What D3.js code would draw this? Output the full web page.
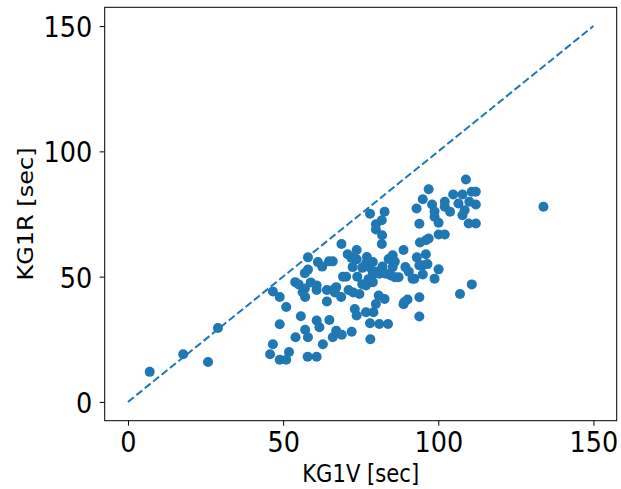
<!DOCTYPE html>
<html lang="en">
  <head>
    <meta charset="utf-8">
    <title>KG1V vs KG1R</title>
    <script src="https://d3js.org/d3.v7.min.js"></script>
    <style>
      body { margin: 0; background: #fff; }
      text { font-family: "DejaVu Sans", sans-serif; fill: #000; }
    </style>
  </head>
  <body>
    <svg id="chart"></svg>
    <script>
      // 1) data
      let kg1v = [7.0, 17.8, 25.8, 29.0, 46.7, 48.9, 51.0, 48.9, 55.7, 46.7, 45.8, 48.9, 51.0, 51.9, 54.0,
                  53.9, 55.0, 57.0, 57.1, 56.3, 57.0, 58.0, 58.0, 58.9, 60.8, 60.8, 61.2, 62.6, 64.8, 66.0,
                  64.1, 67.1, 66.7, 68.7, 64.1, 68.8, 69.3, 70.3, 70.8, 73.7, 72.4, 73.7, 72.0, 73.9, 71.1,
                  72.6, 74.6, 75.5, 76.7, 77.8, 77.0, 78.9, 78.9, 76.7, 78.9, 77.5, 80.0, 81.0, 83.1, 85.3,
                  85.3, 84.7, 86.0, 87.2, 88.8, 89.4, 88.8, 90.1, 89.0, 91.7, 93.1, 93.9, 95.0, 95.0, 92.3,
                  96.0, 93.9, 93.9, 98.8, 100.1, 107.0, 110.8, 78.0, 82.7, 81.8, 79.9, 79.9, 81.9, 81.8, 93.0,
                  95.0, 96.9, 93.9, 94.1, 96.0, 96.9, 98.0, 98.8, 98.8, 100.1, 100.1, 102.1, 102.1, 102.1, 103.8,
                  104.8, 106.5, 107.8, 108.9, 107.8, 109.8, 112.1, 110.8, 112.1, 112.1, 110.0, 108.5, 133.9, 78.0, 81.0,
                  83.8, 78.1, 76.7, 79.1, 79.9, 80.8, 82.7, 73.1, 73.7, 72.1, 68.9, 67.1, 66.0, 64.9, 62.8,
                  60.8, 61.7, 60.8, 57.9, 57.1, 58.0, 66.0, 75.5, 82.0, 84.0, 90.5, 96.5, 86.0];
      let kg1r = [12.0, 19.0, 15.9, 29.5, 44.1, 41.9, 37.9, 31.0, 34.2, 23.0, 19.0, 16.8, 16.8, 19.9, 25.8,
                  47.8, 46.9, 45.3, 41.9, 43.8, 51.4, 52.8, 57.7, 47.7, 46.5, 44.7, 55.8, 54.0, 56.1, 56.1,
                  44.7, 45.8, 43.7, 41.9, 40.1, 63.0, 50.0, 50.0, 58.9, 60.6, 53.8, 56.9, 57.5, 50.0, 44.7,
                  43.7, 43.1, 53.5, 55.2, 53.8, 57.8, 55.8, 51.2, 46.5, 47.8, 49.0, 52.0, 51.2, 51.2, 58.5,
                  53.8, 50.5, 56.0, 49.8, 60.6, 53.8, 39.0, 40.9, 39.8, 49.2, 57.7, 54.5, 54.5, 50.9, 49.2,
                  58.9, 41.8, 34.1, 49.2, 52.9, 43.1, 46.9, 75.1, 75.9, 72.5, 70.9, 68.8, 66.5, 63.0, 77.2,
                  80.9, 84.9, 71.1, 63.6, 64.5, 65.2, 78.8, 76.0, 73.9, 71.5, 66.8, 66.8, 79.9, 77.9, 75.9,
                  82.8, 79.2, 82.8, 88.8, 74.5, 71.2, 71.2, 83.9, 83.9, 78.8, 79.9, 76.5, 77.9, 31.4, 31.1,
                  31.1, 25.0, 35.8, 35.8, 39.1, 42.5, 41.1, 37.1, 34.5, 28.0, 26.8, 28.4, 25.8, 32.7, 23.0,
                  32.5, 29.8, 18.0, 18.0, 28.8, 25.8, 44.7, 47.0, 54.0, 57.0, 52.0, 55.0, 49.8];
      let refLine = [0, 150];
      let ticks = [0, 50, 100, 150];
      let xLabel = "KG1V [sec]", yLabel = "KG1R [sec]";

      // 2) sizes
      let svgWidth = 621, svgHeight = 489;
      let plotLeft = 104.7, plotTop = 7.3, plotRight = 616.7, plotBottom = 420.7;
      let squish = 0.88; // text in the picture is a bit narrow
      let blue = "#1f77b4";

      let svg = d3.select("#chart")
                  .attr("width", svgWidth)
                  .attr("height", svgHeight);

      // 3) scales
      let xScale = d3.scaleLinear().domain([-7.5, 157.5]).range([plotLeft, plotRight]);
      let yScale = d3.scaleLinear().domain([-7.5, 157.5]).range([plotBottom, plotTop]);

      // 4) dashed y = x line
      svg.append("line")
         .attr("x1", xScale(refLine[0])).attr("y1", yScale(refLine[0]))
         .attr("x2", xScale(refLine[1])).attr("y2", yScale(refLine[1]))
         .attr("stroke", blue)
         .attr("stroke-width", 2)
         .attr("stroke-dasharray", "7.5,3.3");

      // 5) points
      svg.selectAll("circle")
         .data(kg1v.map((v, i) => [v, kg1r[i]]))
         .enter()
         .append("circle")
         .attr("cx", d => xScale(d[0]))
         .attr("cy", d => yScale(d[1]))
         .attr("r", 5)
         .attr("fill", blue);

      // 6) axes
      let xAxis = d3.axisBottom(xScale).tickValues(ticks).tickSize(5).tickSizeOuter(0);
      let yAxis = d3.axisLeft(yScale).tickValues(ticks).tickSize(5).tickSizeOuter(0);

      let gx = svg.append("g")
                  .attr("transform", "translate(0," + plotBottom + ")")
                  .call(xAxis);
      gx.select(".domain").remove();
      gx.selectAll("line").attr("stroke", "#000").attr("stroke-width", 1);
      gx.selectAll("text")
        .attr("font-size", 29)
        .attr("font-family", "DejaVu Sans")
        .attr("y", 11)
        .attr("transform", "scale(" + squish + ",1)");

      let gy = svg.append("g")
                  .attr("transform", "translate(" + plotLeft + ",0)")
                  .call(yAxis);
      gy.select(".domain").remove();
      gy.selectAll("line").attr("stroke", "#000").attr("stroke-width", 1);
      gy.selectAll("text")
        .attr("font-size", 29)
        .attr("font-family", "DejaVu Sans")
        .attr("x", -12.5 / squish)
        .attr("dy", "0.36em")
        .attr("transform", "scale(" + squish + ",1)");

      // frame
      svg.append("rect")
         .attr("x", plotLeft).attr("y", plotTop)
         .attr("width", plotRight - plotLeft).attr("height", plotBottom - plotTop)
         .attr("fill", "none")
         .attr("stroke", "#000")
         .attr("stroke-width", 1);

      // 7) axis titles
      svg.append("text")
         .attr("transform", "translate(" + (plotLeft + plotRight) / 2 + ",482) scale(" + squish + ",1)")
         .attr("text-anchor", "middle")
         .attr("font-size", 24)
         .text(xLabel);

      svg.append("text")
         .attr("transform", "translate(33," + (plotTop + plotBottom) / 2 + ") scale(" + squish + ",1) rotate(-90)")
         .attr("text-anchor", "middle")
         .attr("font-size", 24)
         .text(yLabel);
    </script>
  </body>
</html>
